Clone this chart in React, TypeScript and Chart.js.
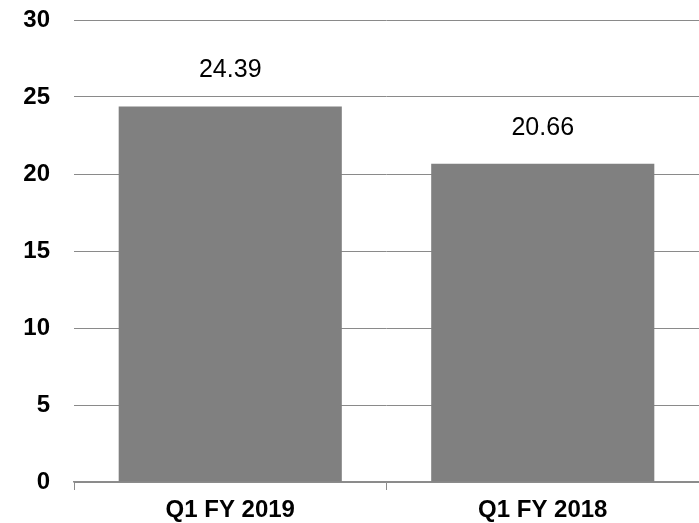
import React, { useEffect, useRef } from "react";
import { Chart, registerables } from "chart.js";

Chart.register(...registerables);

const categories = ["Q1 FY 2019", "Q1 FY 2018"];
const values = [24.39, 20.66];
const yMin = 0;
const yMax = 30;
const yStep = 5;

const FONT = "'Liberation Sans', Arial, Helvetica, sans-serif";

const barLabelPlugin = {
  id: "barLabels",
  afterDatasetsDraw(chart: any) {
    const ctx = chart.ctx;
    const meta = chart.getDatasetMeta(0);
    ctx.save();
    ctx.font = `25px ${FONT}`;
    ctx.fillStyle = "#000";
    ctx.textAlign = "center";
    ctx.textBaseline = "alphabetic";
    meta.data.forEach((bar: any, i: number) => {
      ctx.fillText(values[i].toFixed(2), bar.x, bar.y - 29);
    });
    ctx.restore();
  },
};

export default function App() {
  const ref = useRef<HTMLCanvasElement>(null);
  useEffect(() => {
    if (!ref.current) return;
    const chart = new Chart(ref.current, {
      type: "bar",
      data: {
        labels: categories,
        datasets: [
          {
            data: values,
            backgroundColor: "#808080",
            borderWidth: 0,
            barPercentage: 0.714,
            categoryPercentage: 1,
          },
        ],
      },
      options: {
        animation: false,
        responsive: false,
        maintainAspectRatio: false,
        layout: { padding: { top: 20, right: 0, bottom: 0, left: 0 } },
        plugins: { legend: { display: false }, tooltip: { enabled: false } },
        scales: {
          x: {
            grid: {
              drawOnChartArea: false,
              drawTicks: true,
              tickLength: 8,
              color: "#8c8c8c",
              offset: true,
            },
            border: { display: true, color: "#8c8c8c", width: 1.5 },
            ticks: {
              color: "#000",
              padding: 6,
              font: { family: FONT, size: 24, weight: "bold" },
            },
            afterFit(scale: any) {
              scale.height = 41;
              scale.paddingLeft = 0;
              scale.paddingRight = 0;
            },
          },
          y: {
            min: yMin,
            max: yMax,
            ticks: {
              stepSize: yStep,
              color: "#000",
              padding: 24,
              font: { family: FONT, size: 24, weight: "bold" },
            },
            grid: { color: "#8a8a8a", drawTicks: false, lineWidth: 1 },
            border: { display: false },
            afterFit(scale: any) {
              scale.width = 74;
              scale.paddingTop = 0;
              scale.paddingBottom = 0;
            },
          },
        },
      },
      plugins: [barLabelPlugin],
    });
    return () => chart.destroy();
  }, []);
  return (
    <div style={{ position: "fixed", left: 0, top: 0, width: 699, height: 523, background: "#fff" }}>
      <canvas ref={ref} width={699} height={523} style={{ display: "block" }} />
    </div>
  );
}
